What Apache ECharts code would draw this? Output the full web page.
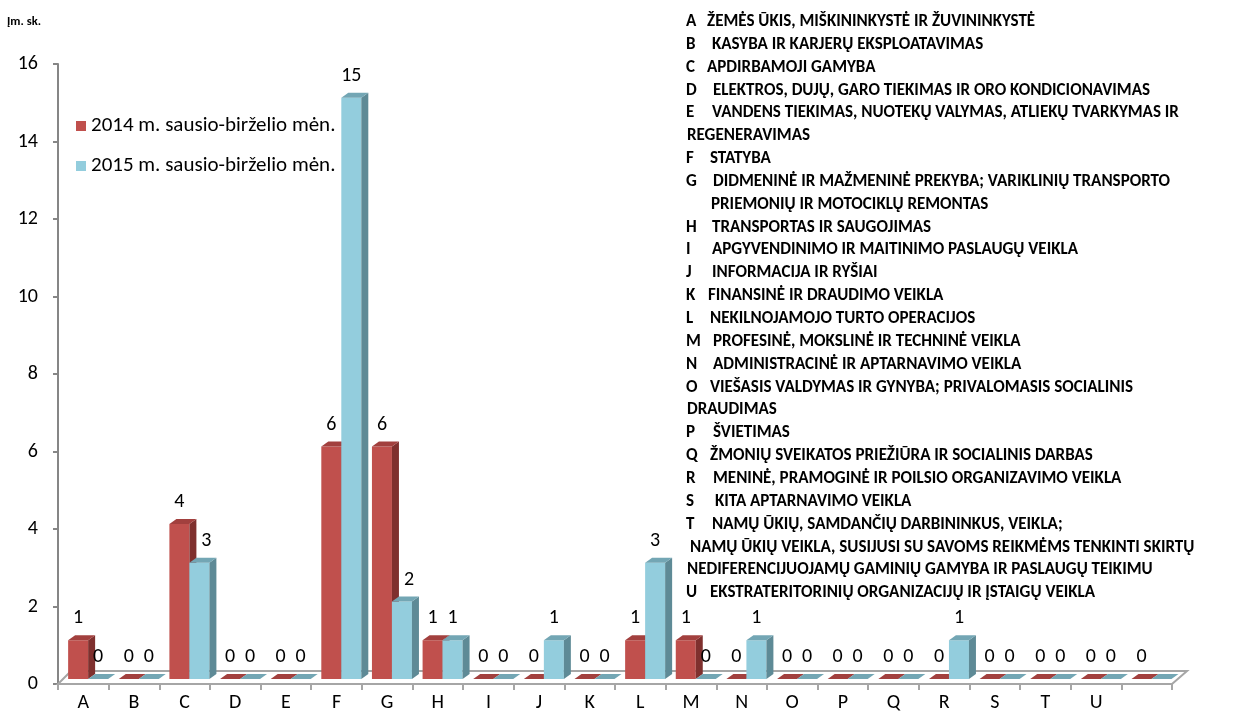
<!DOCTYPE html>
<html>
<head>
<meta charset="utf-8">
<script src="https://cdn.jsdelivr.net/npm/echarts@6/dist/echarts.min.js"></script>
<style>
html,body{margin:0;padding:0;background:#fff;}
#chart{width:1253px;height:719px;}
</style>
</head>
<body>
<div id="chart"></div>
<script>
const categories = ['A','B','C','D','E','F','G','H','I','J','K','L','M','N','O','P','Q','R','S','T','U',''];
const values2014 = [1,0,4,0,0,6,6,1,0,0,0,1,1,0,0,0,0,0,0,0,0,0];
const values2015 = [0,0,3,0,0,15,2,1,0,1,0,3,0,1,0,0,0,1,0,0,0,null];
const seriesNames = ['2014 m. sausio-birželio mėn.', '2015 m. sausio-birželio mėn.'];
const yTicks = {min: 0, max: 16, interval: 2};
const unitLabel = 'Įm. sk.';
const noteLetters = ['A','B','C','D','E','','F','G','','H','I','J','K','L','M','N','O','','P','Q','R','S','T','','','U'];
const noteTexts = [
  'ŽEMĖS ŪKIS, MIŠKININKYSTĖ IR ŽUVININKYSTĖ',
  'KASYBA IR KARJERŲ EKSPLOATAVIMAS',
  'APDIRBAMOJI GAMYBA',
  'ELEKTROS, DUJŲ, GARO TIEKIMAS IR ORO KONDICIONAVIMAS',
  'VANDENS TIEKIMAS, NUOTEKŲ VALYMAS, ATLIEKŲ TVARKYMAS IR',
  'REGENERAVIMAS',
  'STATYBA',
  'DIDMENINĖ IR MAŽMENINĖ PREKYBA; VARIKLINIŲ TRANSPORTO',
  'PRIEMONIŲ IR MOTOCIKLŲ REMONTAS',
  'TRANSPORTAS IR SAUGOJIMAS',
  'APGYVENDINIMO IR MAITINIMO PASLAUGŲ VEIKLA',
  'INFORMACIJA IR RYŠIAI',
  'FINANSINĖ IR DRAUDIMO VEIKLA',
  'NEKILNOJAMOJO TURTO OPERACIJOS',
  'PROFESINĖ, MOKSLINĖ IR TECHNINĖ VEIKLA',
  'ADMINISTRACINĖ IR APTARNAVIMO VEIKLA',
  'VIEŠASIS VALDYMAS IR GYNYBA; PRIVALOMASIS SOCIALINIS',
  'DRAUDIMAS',
  'ŠVIETIMAS',
  'ŽMONIŲ SVEIKATOS PRIEŽIŪRA IR SOCIALINIS DARBAS',
  'MENINĖ, PRAMOGINĖ IR POILSIO ORGANIZAVIMO VEIKLA',
  'KITA APTARNAVIMO VEIKLA',
  'NAMŲ ŪKIŲ, SAMDANČIŲ DARBININKUS, VEIKLA;',
  'NAMŲ ŪKIŲ VEIKLA, SUSIJUSI SU SAVOMS REIKMĖMS TENKINTI SKIRTŲ',
  'NEDIFERENCIJUOJAMŲ GAMINIŲ GAMYBA IR PASLAUGŲ TEIKIMU',
  'EKSTRATERITORINIŲ ORGANIZACIJŲ IR ĮSTAIGŲ VEIKLA'
];
const noteTextX = [707,712,707,713,712,687,710,713,711,712,712,712,708,710,713,713,710,687,713,710,713,715,712,690,687,710];

const FONT = 'Carlito, Lato, "Liberation Sans", sans-serif';
const palettes = [
  {front:'#C0504D', side:'#7F302E', top:'#A2403E'},
  {front:'#93CDDD', side:'#5E8A96', top:'#73A6B4'}
];

function makeBarRender(sIdx, raw, other) {
  const pal = palettes[sIdx];
  return function(params, api) {
    const idx = api.value(0), v = api.value(1);
    const base = api.coord([idx, 0]);
    const top = api.coord([idx, v]);
    const bw = api.size([1, 0])[0];
    const w = bw * 0.395;
    const x0 = base[0] - bw / 2 + bw * 0.2 + sIdx * w;
    const lift = 5, dx = 7, dy = 5;
    const yb = base[1] - lift, yt = top[1] - lift;
    const children = [];
    if (yb - yt > 0.5) {
      children.push({type:'rect', shape:{x:x0, y:yt, width:w, height:yb-yt}, style:{fill:pal.front}});
      children.push({type:'polygon', shape:{points:[[x0+w,yb],[x0+w+dx,yb-dy],[x0+w+dx,yt-dy],[x0+w,yt]]}, style:{fill:pal.side}});
    }
    children.push({type:'polygon', shape:{points:[[x0,yt],[x0+w,yt],[x0+w+dx,yt-dy],[x0+dx,yt-dy]]}, style:{fill:pal.top}});
    const rv = raw[params.dataIndex];
    if (rv !== null) {
      let lx = x0 + w / 2;
      if (sIdx === 1 && rv > 0 && other && other[params.dataIndex] > rv) lx += 7;
      children.push({type:'text', style:{text:String(rv), x:lx, y:yt-22, align:'center', verticalAlign:'middle', fill:'#000', font:'20px ' + FONT}});
    }
    return {type:'group', children};
  };
}

function floorRender(params, api) {
  const cs = params.coordSys;
  const x0 = cs.x, x1 = cs.x + cs.width, y0 = cs.y + cs.height;
  const d = 13;
  return {type:'group', children:[
    {type:'polygon', shape:{points:[[x0,y0],[x1,y0],[x1+15,y0-d],[x0+13,y0-d]]}, style:{fill:'#fff', stroke:'#A6A6A6', lineWidth:2}}
  ]};
}

const chart = echarts.init(document.getElementById('chart'));
const graphics = [{type:'text', left:7, top:15, style:{text:unitLabel, font:'bold 12.5px ' + FONT, fill:'#000'}}];
const lineY0 = 21.7, lineStep = 22.85;
noteTexts.forEach((t, i) => {
  const y = lineY0 + i * lineStep;
  if (noteLetters[i]) {
    graphics.push({type:'text', x:686, y:y, style:{text:noteLetters[i], font:'bold 17px ' + FONT, fill:'#000', verticalAlign:'middle'}});
  }
  graphics.push({type:'text', x:noteTextX[i], y:y, style:{text:t, font:'bold 17px ' + FONT, fill:'#000', verticalAlign:'middle'}});
});

chart.setOption({
  animation: false,
  backgroundColor: '#fff',
  textStyle: {fontFamily: FONT},
  grid: {left:58, right:81, top:64, bottom:35, containLabel:false},
  legend: {
    data: seriesNames, orient:'vertical', left:71, top:109, itemWidth:10, itemHeight:10, itemGap:16, icon:'rect',
    textStyle:{fontSize:21, lineHeight:24, color:'#000', fontFamily:FONT}
  },
  xAxis: {
    type:'category', data:categories, boundaryGap:true,
    axisLine:{show:true, lineStyle:{color:'#A6A6A6', width:2}},
    axisTick:{show:true, length:6, lineStyle:{color:'#A6A6A6', width:2}},
    axisLabel:{fontSize:20, color:'#000', margin:9, fontFamily:FONT}
  },
  yAxis: {
    type:'value', min:yTicks.min, max:yTicks.max, interval:yTicks.interval,
    splitLine:{show:false},
    axisLine:{show:true, lineStyle:{color:'#868686', width:2}},
    axisTick:{show:true, length:5, lineStyle:{color:'#868686', width:2}},
    axisLabel:{fontSize:20, color:'#000', margin:20, fontFamily:FONT}
  },
  graphic: graphics,
  series: [
    {type:'custom', name:'floor', renderItem: floorRender, data:[[0,0]], silent:true, z:1},
    {type:'custom', name:seriesNames[0], renderItem: makeBarRender(0, values2014, null), data: values2014.map((v,i)=>[i, v]), itemStyle:{color:palettes[0].front}, z:2},
    {type:'custom', name:seriesNames[1], renderItem: makeBarRender(1, values2015, values2014), data: values2015.map((v,i)=>[i, v === null ? 0 : v]), itemStyle:{color:palettes[1].front}, z:3}
  ]
});
</script>
</body>
</html>
